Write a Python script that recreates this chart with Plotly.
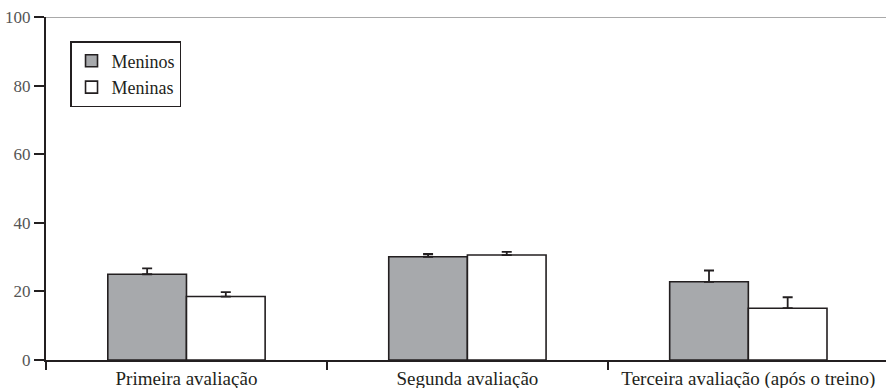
import plotly.graph_objects as go

# Avaliações e médias por grupo
categorias = ["Primeira avaliação", "Segunda avaliação", "Terceira avaliação (após o treino)"]
meninos = [25.0, 30.1, 22.8]
meninos_erro = [1.7, 0.8, 3.3]
meninas = [18.5, 30.6, 15.1]
meninas_erro = [1.3, 0.9, 3.2]
y_ticks = [0, 20, 40, 60, 80, 100]

LINE = "#231f20"
FONT = "Liberation Serif"

fig = go.Figure()
fig.add_trace(go.Bar(
    name="Meninos", x=categorias, y=meninos,
    marker=dict(color="#a7a9ac", line=dict(color=LINE, width=1.6)),
    error_y=dict(type="data", symmetric=False, array=meninos_erro,
                 arrayminus=[0] * len(meninos_erro),
                 color=LINE, thickness=1.8, width=5),
))
fig.add_trace(go.Bar(
    name="Meninas", x=categorias, y=meninas,
    marker=dict(color="#ffffff", line=dict(color=LINE, width=1.6)),
    error_y=dict(type="data", symmetric=False, array=meninas_erro,
                 arrayminus=[0] * len(meninas_erro),
                 color=LINE, thickness=1.8, width=5),
))

# linha superior do quadro
fig.add_shape(type="line", xref="paper", yref="y", x0=0, x1=1, y0=100, y1=100,
              line=dict(color="#555555", width=1))

fig.update_layout(
    width=886, height=388,
    margin=dict(l=46, r=0, t=17, b=28),
    paper_bgcolor="white", plot_bgcolor="white",
    barmode="group", bargap=0.44, bargroupgap=0,
    font=dict(family=FONT, size=16, color="#3a3a3a"),
    showlegend=True,
    legend=dict(x=0.0286, y=0.93, xanchor="left", yanchor="top",
                bordercolor=LINE, borderwidth=1.5, bgcolor="white",
                font=dict(family=FONT, size=18, color="#231f20"),
                tracegroupgap=0, itemwidth=30),
    xaxis=dict(
        type="category", range=[-0.5, 2.49], automargin=False,
        showline=True, linecolor=LINE, linewidth=1.5,
        ticks="outside", tickson="boundaries", ticklen=8, tickwidth=1.5,
        tickcolor=LINE, showgrid=False, zeroline=False,
        tickfont=dict(family=FONT, size=19, color="#231f20"),
    ),
    yaxis=dict(
        range=[0, 100], tickvals=y_ticks, automargin=False,
        showline=True, linecolor=LINE, linewidth=2.2,
        ticks="outside", ticklen=10, tickwidth=2, tickcolor=LINE,
        showgrid=False, zeroline=False,
        tickfont=dict(family=FONT, size=17, color="#555555"),
    ),
)

fig.write_html("out.html")
